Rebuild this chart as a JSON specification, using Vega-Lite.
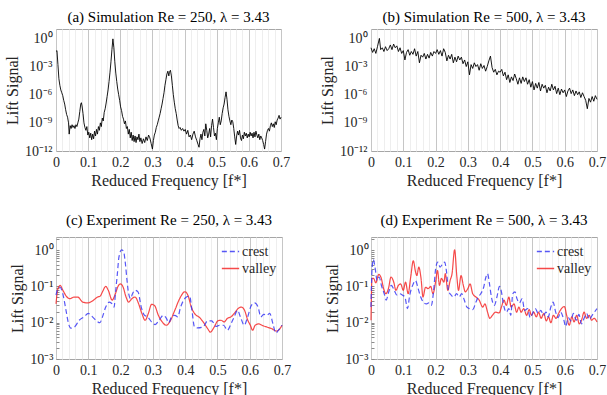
{
"$schema": "https://vega.github.io/schema/vega-lite/v6.json",
"background": "white",
"padding": {"left": 4, "top": 9, "right": 0, "bottom": 0},
"config": {
 "font": "Liberation Serif",
 "view": {"stroke": "#a6a6a6", "strokeWidth": 1},
 "axis": {"labelFont": "Liberation Serif", "titleFont": "Liberation Serif", "labelFontSize": 14, "titleFontSize": 16, "titleFontWeight": "normal", "labelColor": "#262626", "titleColor": "#262626", "domain": false, "ticks": false, "grid": false, "labelPadding": 4, "labelOverlap": false, "labelFlush": false},
 "axisX": {"titlePadding": 3},
 "axisY": {"titlePadding": 4},
 "title": {"font": "Liberation Serif", "fontSize": 15, "fontWeight": "normal", "color": "#000000", "offset": 4},
 "legend": {"labelFont": "Liberation Serif", "labelFontSize": 14, "labelColor": "#262626"}
},
"datasets": {
"a": [
{"f":0.000,"v":4.0e-2},{"f":0.003,"v":5.0e-2},{"f":0.006,"v":1.6e-3},{"f":0.009,"v":5.0e-5},{"f":0.012,"v":1e-5},{"f":0.015,"v":3.2e-6},{"f":0.018,"v":1.6e-6},{"f":0.021,"v":7.9e-7},{"f":0.024,"v":2.5e-7},{"f":0.027,"v":1e-7},{"f":0.030,"v":2.5e-8},{"f":0.033,"v":7.9e-9},{"f":0.036,"v":4.0e-9},{"f":0.039,"v":1e-9},{"f":0.041,"v":6.3e-11},{"f":0.044,"v":5.0e-10},{"f":0.047,"v":2.5e-10},{"f":0.050,"v":6.3e-10},{"f":0.053,"v":3.2e-10},{"f":0.056,"v":5.0e-10},{"f":0.059,"v":2.5e-10},{"f":0.062,"v":6.3e-10},{"f":0.065,"v":4.0e-10},{"f":0.068,"v":1e-9},{"f":0.071,"v":2.5e-9},{"f":0.074,"v":1.6e-8},{"f":0.077,"v":1e-7},{"f":0.079,"v":1.4e-7},{"f":0.081,"v":6.3e-8},{"f":0.084,"v":1e-8},{"f":0.087,"v":1e-9},{"f":0.090,"v":3.2e-10},{"f":0.093,"v":1.6e-10},{"f":0.096,"v":4.0e-10},{"f":0.099,"v":5.0e-11},{"f":0.102,"v":1e-10},{"f":0.105,"v":2.5e-11},{"f":0.108,"v":7.9e-11},{"f":0.111,"v":1.6e-11},{"f":0.114,"v":6.3e-11},{"f":0.117,"v":2.0e-11},{"f":0.120,"v":1.3e-10},{"f":0.123,"v":4.0e-11},{"f":0.126,"v":2.0e-10},{"f":0.129,"v":6.3e-11},{"f":0.132,"v":4.0e-10},{"f":0.135,"v":1.6e-10},{"f":0.138,"v":1e-9},{"f":0.141,"v":4.0e-10},{"f":0.144,"v":3.2e-9},{"f":0.147,"v":1.6e-9},{"f":0.150,"v":1.3e-8},{"f":0.153,"v":3.2e-8},{"f":0.156,"v":1.3e-7},{"f":0.159,"v":6.3e-7},{"f":0.162,"v":3.2e-6},{"f":0.165,"v":2.5e-5},{"f":0.168,"v":2.5e-4},{"f":0.171,"v":3.2e-3},{"f":0.174,"v":6.3e-2},{"f":0.177,"v":8.9e-1},{"f":0.180,"v":1e-1},{"f":0.183,"v":3.2e-3},{"f":0.186,"v":2.0e-4},{"f":0.189,"v":2.5e-5},{"f":0.192,"v":4.0e-6},{"f":0.195,"v":1e-6},{"f":0.198,"v":2.5e-7},{"f":0.201,"v":5.0e-8},{"f":0.204,"v":2.0e-8},{"f":0.207,"v":5.0e-9},{"f":0.210,"v":2.5e-9},{"f":0.213,"v":7.9e-10},{"f":0.216,"v":1.6e-9},{"f":0.219,"v":2.5e-10},{"f":0.222,"v":4.0e-10},{"f":0.225,"v":6.3e-11},{"f":0.228,"v":2.0e-10},{"f":0.231,"v":2.5e-11},{"f":0.234,"v":1e-10},{"f":0.237,"v":1.3e-11},{"f":0.240,"v":5.0e-11},{"f":0.243,"v":1e-11},{"f":0.246,"v":4.0e-11},{"f":0.249,"v":7.9e-12},{"f":0.252,"v":3.2e-11},{"f":0.255,"v":1.6e-11},{"f":0.258,"v":6.3e-11},{"f":0.261,"v":1e-11},{"f":0.264,"v":2.5e-11},{"f":0.268,"v":6.3e-12},{"f":0.272,"v":2.0e-11},{"f":0.276,"v":7.9e-12},{"f":0.280,"v":3.2e-11},{"f":0.284,"v":1.3e-11},{"f":0.288,"v":5.0e-11},{"f":0.292,"v":2.5e-11},{"f":0.296,"v":6.3e-12},{"f":0.300,"v":1.6e-12},{"f":0.303,"v":1.3e-11},{"f":0.306,"v":5.0e-11},{"f":0.309,"v":1e-10},{"f":0.312,"v":3.2e-10},{"f":0.315,"v":6.3e-10},{"f":0.318,"v":1.6e-9},{"f":0.321,"v":4.0e-9},{"f":0.324,"v":1e-8},{"f":0.327,"v":3.2e-8},{"f":0.330,"v":1e-7},{"f":0.333,"v":4.0e-7},{"f":0.336,"v":1.6e-6},{"f":0.339,"v":1e-5},{"f":0.342,"v":4.0e-5},{"f":0.345,"v":1.6e-4},{"f":0.348,"v":3.2e-4},{"f":0.351,"v":1e-4},{"f":0.353,"v":2.5e-4},{"f":0.356,"v":4.0e-4},{"f":0.359,"v":1e-4},{"f":0.362,"v":1e-5},{"f":0.365,"v":1e-6},{"f":0.368,"v":1.6e-7},{"f":0.371,"v":3.2e-8},{"f":0.374,"v":1e-8},{"f":0.377,"v":2.0e-9},{"f":0.380,"v":5.0e-10},{"f":0.383,"v":2.5e-10},{"f":0.386,"v":3.2e-10},{"f":0.390,"v":1.6e-10},{"f":0.394,"v":2.5e-10},{"f":0.398,"v":1.3e-10},{"f":0.402,"v":2.0e-10},{"f":0.406,"v":6.3e-11},{"f":0.410,"v":1.6e-10},{"f":0.414,"v":3.2e-11},{"f":0.418,"v":5.0e-11},{"f":0.422,"v":1.6e-11},{"f":0.426,"v":6.3e-11},{"f":0.430,"v":1.3e-10},{"f":0.434,"v":3.2e-11},{"f":0.438,"v":1.3e-11},{"f":0.442,"v":5.0e-12},{"f":0.445,"v":2.5e-12},{"f":0.448,"v":2.0e-11},{"f":0.451,"v":6.3e-11},{"f":0.454,"v":1.6e-11},{"f":0.457,"v":1e-10},{"f":0.460,"v":2.0e-10},{"f":0.463,"v":4.0e-11},{"f":0.466,"v":7.9e-10},{"f":0.469,"v":1.6e-10},{"f":0.472,"v":2.5e-11},{"f":0.475,"v":6.3e-11},{"f":0.478,"v":2.5e-10},{"f":0.481,"v":3.2e-11},{"f":0.484,"v":5.0e-10},{"f":0.487,"v":2.5e-9},{"f":0.490,"v":3.2e-10},{"f":0.493,"v":4.0e-11},{"f":0.496,"v":7.9e-11},{"f":0.499,"v":1.6e-11},{"f":0.502,"v":2.5e-10},{"f":0.505,"v":1e-9},{"f":0.508,"v":4.0e-9},{"f":0.511,"v":6.3e-10},{"f":0.514,"v":1.6e-9},{"f":0.517,"v":1e-8},{"f":0.520,"v":4.0e-8},{"f":0.523,"v":1e-7},{"f":0.526,"v":5.0e-7},{"f":0.529,"v":2.0e-6},{"f":0.532,"v":3.2e-7},{"f":0.535,"v":2.5e-8},{"f":0.538,"v":5.0e-9},{"f":0.541,"v":1.6e-9},{"f":0.544,"v":6.3e-10},{"f":0.547,"v":2.0e-9},{"f":0.550,"v":1.3e-9},{"f":0.553,"v":2.5e-10},{"f":0.556,"v":3.2e-11},{"f":0.559,"v":5.0e-12},{"f":0.562,"v":4.0e-11},{"f":0.565,"v":1.3e-10},{"f":0.568,"v":5.0e-11},{"f":0.571,"v":1.6e-10},{"f":0.574,"v":2.5e-11},{"f":0.577,"v":1.3e-11},{"f":0.580,"v":5.0e-11},{"f":0.583,"v":2.0e-11},{"f":0.586,"v":1e-10},{"f":0.589,"v":4.0e-11},{"f":0.592,"v":7.9e-11},{"f":0.595,"v":2.5e-11},{"f":0.598,"v":6.3e-11},{"f":0.601,"v":3.2e-11},{"f":0.604,"v":1e-10},{"f":0.607,"v":4.0e-11},{"f":0.610,"v":7.9e-11},{"f":0.613,"v":2.5e-11},{"f":0.616,"v":1e-10},{"f":0.619,"v":3.2e-11},{"f":0.622,"v":1.3e-10},{"f":0.625,"v":5.0e-11},{"f":0.628,"v":2.5e-11},{"f":0.631,"v":6.3e-11},{"f":0.634,"v":1.6e-11},{"f":0.637,"v":4.0e-11},{"f":0.640,"v":2.5e-11},{"f":0.643,"v":1.3e-11},{"f":0.646,"v":5.0e-12},{"f":0.649,"v":1.6e-12},{"f":0.652,"v":1e-11},{"f":0.655,"v":6.3e-11},{"f":0.658,"v":1.6e-10},{"f":0.661,"v":2.5e-10},{"f":0.664,"v":1.3e-10},{"f":0.667,"v":5.0e-10},{"f":0.670,"v":1e-9},{"f":0.673,"v":4.0e-10},{"f":0.676,"v":7.9e-10},{"f":0.679,"v":3.2e-10},{"f":0.682,"v":1.3e-9},{"f":0.685,"v":6.3e-10},{"f":0.688,"v":2.0e-9},{"f":0.691,"v":3.2e-9},{"f":0.694,"v":6.3e-9},{"f":0.697,"v":2.5e-9},{"f":0.700,"v":4.0e-9}
],
"b": [
{"f":0.000,"v":0.1},{"f":0.005,"v":3.2e-2},{"f":0.010,"v":7.9e-2},{"f":0.015,"v":2.5e-2},{"f":0.020,"v":0.13},{"f":0.026,"v":1.0},{"f":0.030,"v":6.3e-2},{"f":0.035,"v":0.1},{"f":0.040,"v":4.0e-2},{"f":0.045,"v":0.13},{"f":0.050,"v":5.0e-2},{"f":0.055,"v":7.9e-2},{"f":0.060,"v":0.2},{"f":0.065,"v":6.3e-2},{"f":0.070,"v":0.25},{"f":0.075,"v":0.1},{"f":0.080,"v":0.16},{"f":0.085,"v":4.0e-2},{"f":0.090,"v":0.1},{"f":0.095,"v":2.5e-2},{"f":0.100,"v":5.0e-2},{"f":0.105,"v":5.0e-3},{"f":0.110,"v":3.2e-2},{"f":0.115,"v":6.3e-2},{"f":0.120,"v":1.6e-2},{"f":0.125,"v":4.0e-2},{"f":0.130,"v":2.0e-2},{"f":0.135,"v":7.9e-2},{"f":0.140,"v":1.3e-2},{"f":0.145,"v":4.0e-2},{"f":0.150,"v":2.5e-3},{"f":0.155,"v":1.6e-2},{"f":0.160,"v":1e-2},{"f":0.165,"v":2.5e-2},{"f":0.170,"v":6.3e-3},{"f":0.175,"v":2.0e-2},{"f":0.180,"v":7.9e-3},{"f":0.185,"v":3.2e-2},{"f":0.190,"v":1.3e-2},{"f":0.195,"v":4.0e-2},{"f":0.200,"v":2.5e-2},{"f":0.205,"v":6.3e-2},{"f":0.210,"v":2.0e-2},{"f":0.215,"v":5.0e-2},{"f":0.220,"v":1.3e-2},{"f":0.225,"v":7.9e-2},{"f":0.230,"v":3.2e-2},{"f":0.235,"v":4.0e-3},{"f":0.240,"v":1.6e-2},{"f":0.245,"v":6.3e-3},{"f":0.250,"v":2.0e-2},{"f":0.255,"v":2.5e-3},{"f":0.260,"v":1e-2},{"f":0.265,"v":3.2e-3},{"f":0.270,"v":1.3e-2},{"f":0.275,"v":5.0e-3},{"f":0.280,"v":1e-2},{"f":0.285,"v":2.0e-3},{"f":0.290,"v":5.0e-3},{"f":0.295,"v":1e-3},{"f":0.300,"v":3.2e-3},{"f":0.305,"v":1.3e-4},{"f":0.310,"v":1.6e-3},{"f":0.315,"v":6.3e-4},{"f":0.320,"v":2.5e-3},{"f":0.325,"v":1e-3},{"f":0.330,"v":1.6e-3},{"f":0.335,"v":4.0e-4},{"f":0.340,"v":2.0e-3},{"f":0.345,"v":6.3e-4},{"f":0.350,"v":1.3e-3},{"f":0.355,"v":3.2e-4},{"f":0.360,"v":1e-3},{"f":0.365,"v":4.0e-3},{"f":0.370,"v":1.3e-2},{"f":0.375,"v":7.9e-4},{"f":0.380,"v":2.5e-4},{"f":0.385,"v":5.0e-4},{"f":0.390,"v":1.3e-4},{"f":0.395,"v":3.2e-4},{"f":0.400,"v":2.5e-4},{"f":0.405,"v":5.0e-4},{"f":0.410,"v":1e-4},{"f":0.415,"v":2.5e-4},{"f":0.420,"v":4.0e-5},{"f":0.425,"v":1.3e-4},{"f":0.430,"v":2.0e-5},{"f":0.435,"v":7.9e-5},{"f":0.440,"v":3.2e-5},{"f":0.445,"v":1.6e-4},{"f":0.450,"v":5.0e-5},{"f":0.455,"v":1.3e-5},{"f":0.460,"v":6.3e-5},{"f":0.465,"v":1.6e-5},{"f":0.470,"v":7.9e-5},{"f":0.475,"v":2.5e-5},{"f":0.480,"v":6.3e-5},{"f":0.485,"v":1.3e-5},{"f":0.490,"v":4.0e-5},{"f":0.495,"v":6.3e-6},{"f":0.500,"v":2.5e-5},{"f":0.505,"v":3.2e-6},{"f":0.510,"v":1.6e-5},{"f":0.515,"v":5.0e-6},{"f":0.520,"v":2.0e-5},{"f":0.525,"v":2.5e-6},{"f":0.530,"v":1.3e-5},{"f":0.535,"v":5.0e-6},{"f":0.540,"v":1e-5},{"f":0.545,"v":1.6e-6},{"f":0.550,"v":6.3e-6},{"f":0.555,"v":2.5e-6},{"f":0.560,"v":1.3e-5},{"f":0.565,"v":3.2e-6},{"f":0.570,"v":7.9e-6},{"f":0.575,"v":1.3e-6},{"f":0.580,"v":5.0e-6},{"f":0.585,"v":1e-6},{"f":0.590,"v":4.0e-6},{"f":0.595,"v":1.6e-6},{"f":0.600,"v":3.2e-6},{"f":0.605,"v":6.3e-7},{"f":0.610,"v":2.5e-6},{"f":0.615,"v":5.0e-6},{"f":0.620,"v":1.3e-6},{"f":0.625,"v":3.2e-6},{"f":0.630,"v":7.9e-7},{"f":0.635,"v":2.5e-6},{"f":0.640,"v":1e-6},{"f":0.645,"v":2.0e-6},{"f":0.650,"v":5.0e-7},{"f":0.655,"v":1.6e-6},{"f":0.660,"v":6.3e-7},{"f":0.665,"v":2.5e-7},{"f":0.670,"v":3.2e-8},{"f":0.675,"v":4.0e-7},{"f":0.680,"v":1.6e-7},{"f":0.685,"v":6.3e-7},{"f":0.690,"v":2.0e-7},{"f":0.695,"v":7.9e-7},{"f":0.700,"v":3.2e-7}
],
"c": [
{"s":"valley","f":0,"v":3.3e-2},{"s":"valley","f":0.006,"v":8.7e-2},{"s":"valley","f":0.013,"v":0.107},{"s":"valley","f":0.021,"v":7.9e-2},{"s":"valley","f":0.034,"v":5.1e-2},{"s":"valley","f":0.042,"v":4.6e-2},{"s":"valley","f":0.057,"v":5.1e-2},{"s":"valley","f":0.067,"v":5.1e-2},{"s":"valley","f":0.083,"v":3.7e-2},{"s":"valley","f":0.098,"v":3.5e-2},{"s":"valley","f":0.113,"v":4.0e-2},{"s":"valley","f":0.129,"v":5.1e-2},{"s":"valley","f":0.137,"v":5.4e-2},{"s":"valley","f":0.144,"v":7.1e-2},{"s":"valley","f":0.154,"v":0.1},{"s":"valley","f":0.162,"v":7.8e-2},{"s":"valley","f":0.174,"v":4.2e-2},{"s":"valley","f":0.184,"v":6.3e-2},{"s":"valley","f":0.192,"v":0.1},{"s":"valley","f":0.199,"v":0.117},{"s":"valley","f":0.207,"v":0.1},{"s":"valley","f":0.217,"v":5.1e-2},{"s":"valley","f":0.225,"v":3.7e-2},{"s":"valley","f":0.235,"v":4.6e-2},{"s":"valley","f":0.245,"v":5.1e-2},{"s":"valley","f":0.256,"v":3.3e-2},{"s":"valley","f":0.266,"v":1.8e-2},{"s":"valley","f":0.276,"v":1.17e-2},{"s":"valley","f":0.286,"v":1.8e-2},{"s":"valley","f":0.296,"v":3.2e-2},{"s":"valley","f":0.305,"v":3.0e-2},{"s":"valley","f":0.317,"v":1.6e-2},{"s":"valley","f":0.329,"v":1.05e-2},{"s":"valley","f":0.342,"v":8.5e-3},{"s":"valley","f":0.352,"v":1.05e-2},{"s":"valley","f":0.368,"v":2.2e-2},{"s":"valley","f":0.383,"v":4.6e-2},{"s":"valley","f":0.399,"v":7.1e-2},{"s":"valley","f":0.409,"v":5.6e-2},{"s":"valley","f":0.419,"v":2.7e-2},{"s":"valley","f":0.429,"v":1.8e-2},{"s":"valley","f":0.445,"v":1.38e-2},{"s":"valley","f":0.460,"v":9.3e-3},{"s":"valley","f":0.470,"v":6.8e-3},{"s":"valley","f":0.478,"v":5.5e-3},{"s":"valley","f":0.490,"v":7.6e-3},{"s":"valley","f":0.501,"v":1.12e-2},{"s":"valley","f":0.511,"v":1.17e-2},{"s":"valley","f":0.521,"v":1.05e-2},{"s":"valley","f":0.531,"v":1.32e-2},{"s":"valley","f":0.542,"v":1.45e-2},{"s":"valley","f":0.552,"v":1.8e-2},{"s":"valley","f":0.564,"v":2.45e-2},{"s":"valley","f":0.574,"v":2.7e-2},{"s":"valley","f":0.584,"v":2.2e-2},{"s":"valley","f":0.594,"v":1.17e-2},{"s":"valley","f":0.602,"v":8.5e-3},{"s":"valley","f":0.609,"v":6.2e-3},{"s":"valley","f":0.617,"v":8.5e-3},{"s":"valley","f":0.628,"v":9.3e-3},{"s":"valley","f":0.638,"v":8.5e-3},{"s":"valley","f":0.653,"v":7.6e-3},{"s":"valley","f":0.669,"v":6.8e-3},{"s":"valley","f":0.682,"v":5.9e-3},{"s":"valley","f":0.689,"v":6.2e-3},{"s":"valley","f":0.7,"v":8.5e-3},
{"s":"crest","f":0,"v":5.8e-2},{"s":"crest","f":0.006,"v":8.7e-2},{"s":"crest","f":0.013,"v":9.5e-2},{"s":"crest","f":0.021,"v":6.3e-2},{"s":"crest","f":0.031,"v":2.2e-2},{"s":"crest","f":0.039,"v":9.3e-3},{"s":"crest","f":0.046,"v":7.1e-3},{"s":"crest","f":0.057,"v":7.6e-3},{"s":"crest","f":0.072,"v":1.17e-2},{"s":"crest","f":0.087,"v":1.45e-2},{"s":"crest","f":0.1,"v":1.8e-2},{"s":"crest","f":0.113,"v":1.45e-2},{"s":"crest","f":0.126,"v":1.12e-2},{"s":"crest","f":0.136,"v":1e-2},{"s":"crest","f":0.144,"v":1.45e-2},{"s":"crest","f":0.154,"v":2.7e-2},{"s":"crest","f":0.165,"v":3.7e-2},{"s":"crest","f":0.174,"v":3.3e-2},{"s":"crest","f":0.180,"v":2.7e-2},{"s":"crest","f":0.184,"v":6.3e-2},{"s":"crest","f":0.190,"v":0.22},{"s":"crest","f":0.195,"v":0.65},{"s":"crest","f":0.203,"v":1.02},{"s":"crest","f":0.209,"v":0.93},{"s":"crest","f":0.215,"v":0.42},{"s":"crest","f":0.220,"v":0.145},{"s":"crest","f":0.225,"v":6.3e-2},{"s":"crest","f":0.231,"v":4.6e-2},{"s":"crest","f":0.237,"v":6.3e-2},{"s":"crest","f":0.245,"v":7.8e-2},{"s":"crest","f":0.254,"v":7.1e-2},{"s":"crest","f":0.264,"v":2.7e-2},{"s":"crest","f":0.274,"v":1.6e-2},{"s":"crest","f":0.284,"v":1.45e-2},{"s":"crest","f":0.296,"v":1.05e-2},{"s":"crest","f":0.307,"v":8.9e-3},{"s":"crest","f":0.321,"v":1.23e-2},{"s":"crest","f":0.332,"v":1.6e-2},{"s":"crest","f":0.342,"v":1.32e-2},{"s":"crest","f":0.349,"v":1e-2},{"s":"crest","f":0.358,"v":1.45e-2},{"s":"crest","f":0.368,"v":1.6e-2},{"s":"crest","f":0.377,"v":1.45e-2},{"s":"crest","f":0.386,"v":2.7e-2},{"s":"crest","f":0.404,"v":5.1e-2},{"s":"crest","f":0.414,"v":5.4e-2},{"s":"crest","f":0.421,"v":2.2e-2},{"s":"crest","f":0.429,"v":7.6e-3},{"s":"crest","f":0.439,"v":7.2e-3},{"s":"crest","f":0.455,"v":7.6e-3},{"s":"crest","f":0.470,"v":1.12e-2},{"s":"crest","f":0.482,"v":1.12e-2},{"s":"crest","f":0.496,"v":7.9e-3},{"s":"crest","f":0.506,"v":8.5e-3},{"s":"crest","f":0.519,"v":8.5e-3},{"s":"crest","f":0.531,"v":6.2e-3},{"s":"crest","f":0.542,"v":9.3e-3},{"s":"crest","f":0.552,"v":1.45e-2},{"s":"crest","f":0.562,"v":2.2e-2},{"s":"crest","f":0.572,"v":1.38e-2},{"s":"crest","f":0.583,"v":8.5e-3},{"s":"crest","f":0.593,"v":1.38e-2},{"s":"crest","f":0.605,"v":3.0e-2},{"s":"crest","f":0.615,"v":3.5e-2},{"s":"crest","f":0.626,"v":2.7e-2},{"s":"crest","f":0.634,"v":1.45e-2},{"s":"crest","f":0.644,"v":1.7e-2},{"s":"crest","f":0.653,"v":1.6e-2},{"s":"crest","f":0.662,"v":1.8e-2},{"s":"crest","f":0.672,"v":9.3e-3},{"s":"crest","f":0.681,"v":5.2e-3},{"s":"crest","f":0.689,"v":6.2e-3},{"s":"crest","f":0.7,"v":8.5e-3}
],
"d": [
{"s":"valley","f":0,"v":1.17e-2},{"s":"valley","f":0.003,"v":0.166},{"s":"valley","f":0.008,"v":0.166},{"s":"valley","f":0.015,"v":0.126},{"s":"valley","f":0.024,"v":0.214},{"s":"valley","f":0.032,"v":0.166},{"s":"valley","f":0.039,"v":8.7e-2},{"s":"valley","f":0.046,"v":6.3e-2},{"s":"valley","f":0.054,"v":8.7e-2},{"s":"valley","f":0.062,"v":0.182},{"s":"valley","f":0.071,"v":0.126},{"s":"valley","f":0.077,"v":7.8e-2},{"s":"valley","f":0.085,"v":0.107},{"s":"valley","f":0.092,"v":0.117},{"s":"valley","f":0.1,"v":7.8e-2},{"s":"valley","f":0.107,"v":0.132},{"s":"valley","f":0.115,"v":6.3e-2},{"s":"valley","f":0.123,"v":0.182},{"s":"valley","f":0.131,"v":0.51},{"s":"valley","f":0.138,"v":0.25},{"s":"valley","f":0.142,"v":0.2},{"s":"valley","f":0.148,"v":0.34},{"s":"valley","f":0.155,"v":0.166},{"s":"valley","f":0.161,"v":5.1e-2},{"s":"valley","f":0.169,"v":9.5e-2},{"s":"valley","f":0.177,"v":8.7e-2},{"s":"valley","f":0.185,"v":0.1},{"s":"valley","f":0.192,"v":6.3e-2},{"s":"valley","f":0.2,"v":0.132},{"s":"valley","f":0.206,"v":0.275},{"s":"valley","f":0.212,"v":0.107},{"s":"valley","f":0.218,"v":0.166},{"s":"valley","f":0.226,"v":0.132},{"s":"valley","f":0.23,"v":0.224},{"s":"valley","f":0.238,"v":7.8e-2},{"s":"valley","f":0.245,"v":0.145},{"s":"valley","f":0.251,"v":0.224},{"s":"valley","f":0.259,"v":1.02},{"s":"valley","f":0.266,"v":0.182},{"s":"valley","f":0.271,"v":7.8e-2},{"s":"valley","f":0.279,"v":0.2},{"s":"valley","f":0.286,"v":0.107},{"s":"valley","f":0.292,"v":7.1e-2},{"s":"valley","f":0.3,"v":8.7e-2},{"s":"valley","f":0.307,"v":0.117},{"s":"valley","f":0.315,"v":6.3e-2},{"s":"valley","f":0.325,"v":5.1e-2},{"s":"valley","f":0.335,"v":4.2e-2},{"s":"valley","f":0.346,"v":2.7e-2},{"s":"valley","f":0.353,"v":3.3e-2},{"s":"valley","f":0.361,"v":1.95e-2},{"s":"valley","f":0.368,"v":1.32e-2},{"s":"valley","f":0.376,"v":1.6e-2},{"s":"valley","f":0.386,"v":1.95e-2},{"s":"valley","f":0.397,"v":1.86e-2},{"s":"valley","f":0.404,"v":2.7e-2},{"s":"valley","f":0.412,"v":4.2e-2},{"s":"valley","f":0.419,"v":3.0e-2},{"s":"valley","f":0.427,"v":5.1e-2},{"s":"valley","f":0.434,"v":2.7e-2},{"s":"valley","f":0.443,"v":3.3e-2},{"s":"valley","f":0.451,"v":1.95e-2},{"s":"valley","f":0.458,"v":2.7e-2},{"s":"valley","f":0.465,"v":1.95e-2},{"s":"valley","f":0.473,"v":2.45e-2},{"s":"valley","f":0.482,"v":1.6e-2},{"s":"valley","f":0.49,"v":2.3e-2},{"s":"valley","f":0.497,"v":1.6e-2},{"s":"valley","f":0.504,"v":1.95e-2},{"s":"valley","f":0.512,"v":1.45e-2},{"s":"valley","f":0.519,"v":1.95e-2},{"s":"valley","f":0.527,"v":1.32e-2},{"s":"valley","f":0.535,"v":1.8e-2},{"s":"valley","f":0.543,"v":1.12e-2},{"s":"valley","f":0.55,"v":1.45e-2},{"s":"valley","f":0.557,"v":1e-2},{"s":"valley","f":0.565,"v":1.6e-2},{"s":"valley","f":0.573,"v":1.32e-2},{"s":"valley","f":0.581,"v":1.8e-2},{"s":"valley","f":0.59,"v":2.45e-2},{"s":"valley","f":0.599,"v":2.8e-2},{"s":"valley","f":0.606,"v":1.6e-2},{"s":"valley","f":0.614,"v":8.5e-3},{"s":"valley","f":0.622,"v":1.45e-2},{"s":"valley","f":0.629,"v":1.05e-2},{"s":"valley","f":0.637,"v":1.6e-2},{"s":"valley","f":0.645,"v":9.3e-3},{"s":"valley","f":0.652,"v":1.17e-2},{"s":"valley","f":0.66,"v":1.95e-2},{"s":"valley","f":0.668,"v":1.32e-2},{"s":"valley","f":0.676,"v":1.6e-2},{"s":"valley","f":0.683,"v":1.17e-2},{"s":"valley","f":0.691,"v":1.32e-2},{"s":"valley","f":0.7,"v":1.05e-2},
{"s":"crest","f":0,"v":2.7e-2},{"s":"crest","f":0.003,"v":0.275},{"s":"crest","f":0.007,"v":0.55},{"s":"crest","f":0.013,"v":0.31},{"s":"crest","f":0.019,"v":0.145},{"s":"crest","f":0.025,"v":0.182},{"s":"crest","f":0.033,"v":0.1},{"s":"crest","f":0.041,"v":6.3e-2},{"s":"crest","f":0.047,"v":4.2e-2},{"s":"crest","f":0.055,"v":7.1e-2},{"s":"crest","f":0.063,"v":0.107},{"s":"crest","f":0.072,"v":7.8e-2},{"s":"crest","f":0.08,"v":5.8e-2},{"s":"crest","f":0.088,"v":6.3e-2},{"s":"crest","f":0.097,"v":5.8e-2},{"s":"crest","f":0.105,"v":5.1e-2},{"s":"crest","f":0.113,"v":2.45e-2},{"s":"crest","f":0.12,"v":5.8e-2},{"s":"crest","f":0.129,"v":0.107},{"s":"crest","f":0.138,"v":0.145},{"s":"crest","f":0.146,"v":8.7e-2},{"s":"crest","f":0.154,"v":5.1e-2},{"s":"crest","f":0.162,"v":3.7e-2},{"s":"crest","f":0.171,"v":3.3e-2},{"s":"crest","f":0.179,"v":3.5e-2},{"s":"crest","f":0.187,"v":3.0e-2},{"s":"crest","f":0.193,"v":6.3e-2},{"s":"crest","f":0.201,"v":0.34},{"s":"crest","f":0.207,"v":0.47},{"s":"crest","f":0.214,"v":0.34},{"s":"crest","f":0.222,"v":0.42},{"s":"crest","f":0.228,"v":0.47},{"s":"crest","f":0.234,"v":0.25},{"s":"crest","f":0.24,"v":7.8e-2},{"s":"crest","f":0.248,"v":5.8e-2},{"s":"crest","f":0.257,"v":5.1e-2},{"s":"crest","f":0.265,"v":6.3e-2},{"s":"crest","f":0.273,"v":5.1e-2},{"s":"crest","f":0.281,"v":6.3e-2},{"s":"crest","f":0.289,"v":4.2e-2},{"s":"crest","f":0.297,"v":2.7e-2},{"s":"crest","f":0.305,"v":2.45e-2},{"s":"crest","f":0.315,"v":2.3e-2},{"s":"crest","f":0.325,"v":3.7e-2},{"s":"crest","f":0.332,"v":5.1e-2},{"s":"crest","f":0.34,"v":6.3e-2},{"s":"crest","f":0.349,"v":9.5e-2},{"s":"crest","f":0.356,"v":0.182},{"s":"crest","f":0.361,"v":0.224},{"s":"crest","f":0.367,"v":0.117},{"s":"crest","f":0.373,"v":5.1e-2},{"s":"crest","f":0.382,"v":3.0e-2},{"s":"crest","f":0.39,"v":5.1e-2},{"s":"crest","f":0.398,"v":0.1},{"s":"crest","f":0.404,"v":7.1e-2},{"s":"crest","f":0.41,"v":3.3e-2},{"s":"crest","f":0.419,"v":1.95e-2},{"s":"crest","f":0.427,"v":2.45e-2},{"s":"crest","f":0.433,"v":1.6e-2},{"s":"crest","f":0.439,"v":6.3e-2},{"s":"crest","f":0.446,"v":7.1e-2},{"s":"crest","f":0.452,"v":4.6e-2},{"s":"crest","f":0.46,"v":3.5e-2},{"s":"crest","f":0.468,"v":4.6e-2},{"s":"crest","f":0.476,"v":2.2e-2},{"s":"crest","f":0.485,"v":2.45e-2},{"s":"crest","f":0.493,"v":1.38e-2},{"s":"crest","f":0.501,"v":1.86e-2},{"s":"crest","f":0.509,"v":2.45e-2},{"s":"crest","f":0.518,"v":1.8e-2},{"s":"crest","f":0.526,"v":2.2e-2},{"s":"crest","f":0.534,"v":1.6e-2},{"s":"crest","f":0.542,"v":1.95e-2},{"s":"crest","f":0.549,"v":1.45e-2},{"s":"crest","f":0.557,"v":2.7e-2},{"s":"crest","f":0.564,"v":3.7e-2},{"s":"crest","f":0.572,"v":1.95e-2},{"s":"crest","f":0.58,"v":1.38e-2},{"s":"crest","f":0.587,"v":1.95e-2},{"s":"crest","f":0.596,"v":1.32e-2},{"s":"crest","f":0.603,"v":7.9e-3},{"s":"crest","f":0.611,"v":1.38e-2},{"s":"crest","f":0.619,"v":1.12e-2},{"s":"crest","f":0.627,"v":1.8e-2},{"s":"crest","f":0.636,"v":1.17e-2},{"s":"crest","f":0.644,"v":1.7e-2},{"s":"crest","f":0.652,"v":9.3e-3},{"s":"crest","f":0.66,"v":1.32e-2},{"s":"crest","f":0.668,"v":1.8e-2},{"s":"crest","f":0.676,"v":1.23e-2},{"s":"crest","f":0.685,"v":1.6e-2},{"s":"crest","f":0.692,"v":1.95e-2},{"s":"crest","f":0.7,"v":2.45e-2}
]
},
"spacing": 23,
"vconcat": [
{"hconcat": [
 {"width": 225, "height": 122, "title": "(a) Simulation Re = 250, λ = 3.43", "data": {"name": "a"},
  "mark": {"type": "line", "color": "black", "strokeWidth": 0.9},
  "encoding": {
   "x": {"field": "f", "type": "quantitative", "scale": {"domain": [0, 0.7], "nice": false, "zero": false},
    "axis": {"title": "Reduced Frequency [f*]", "grid": true, "values": [0,0.02,0.04,0.06,0.08,0.1,0.12,0.14,0.16,0.18,0.2,0.22,0.24,0.26,0.28,0.3,0.32,0.34,0.36,0.38,0.4,0.42,0.44,0.46,0.48,0.5,0.52,0.54,0.56,0.58,0.6,0.62,0.64,0.66,0.68,0.7],
     "labelExpr": "abs(datum.value*10 - round(datum.value*10)) < 0.001 ? format(datum.value, '.1~f') : ''",
     "gridColor": {"condition": {"test": "abs(datum.value*10 - round(datum.value*10)) < 0.001", "value": "#c6c6c6"}, "value": "#eeeeee"}}},
   "y": {"field": "v", "type": "quantitative", "scale": {"type": "log", "domain": [1e-12, 10], "nice": false},
    "axis": {"title": "Lift Signal", "values": [1e-12, 1e-9, 1e-6, 1e-3, 1],
     "labelExpr": "'10' + replace(replace(replace(replace(replace(replace(replace(replace(replace(replace(replace('' + round(log(datum.value)/LN10),'-','⁻'),'0','⁰'),'1','¹'),'2','²'),'3','³'),'4','⁴'),'5','⁵'),'6','⁶'),'7','⁷'),'8','⁸'),'9','⁹')"}}
  }},
 {"width": 226, "height": 122, "title": "(b) Simulation Re = 500, λ = 3.43", "data": {"name": "b"},
  "mark": {"type": "line", "color": "black", "strokeWidth": 0.9},
  "encoding": {
   "x": {"field": "f", "type": "quantitative", "scale": {"domain": [0, 0.7], "nice": false, "zero": false},
    "axis": {"title": "Reduced Frequency [f*]", "grid": true, "values": [0,0.02,0.04,0.06,0.08,0.1,0.12,0.14,0.16,0.18,0.2,0.22,0.24,0.26,0.28,0.3,0.32,0.34,0.36,0.38,0.4,0.42,0.44,0.46,0.48,0.5,0.52,0.54,0.56,0.58,0.6,0.62,0.64,0.66,0.68,0.7],
     "labelExpr": "abs(datum.value*10 - round(datum.value*10)) < 0.001 ? format(datum.value, '.1~f') : ''",
     "gridColor": {"condition": {"test": "abs(datum.value*10 - round(datum.value*10)) < 0.001", "value": "#c6c6c6"}, "value": "#eeeeee"}}},
   "y": {"field": "v", "type": "quantitative", "scale": {"type": "log", "domain": [1e-12, 10], "nice": false},
    "axis": {"title": "Lift Signal", "values": [1e-12, 1e-9, 1e-6, 1e-3, 1],
     "labelExpr": "'10' + replace(replace(replace(replace(replace(replace(replace(replace(replace(replace(replace('' + round(log(datum.value)/LN10),'-','⁻'),'0','⁰'),'1','¹'),'2','²'),'3','³'),'4','⁴'),'5','⁵'),'6','⁶'),'7','⁷'),'8','⁸'),'9','⁹')"}}
  }}
 ], "spacing": 90, "bounds": "flush"},
{"hconcat": [
 {"width": 226, "height": 122, "title": "(c) Experiment Re = 250, λ = 3.43", "data": {"name": "c"},
  "mark": {"type": "line", "strokeWidth": 1.2, "opacity": 0.85, "interpolate": "monotone"},
  "encoding": {
   "x": {"field": "f", "type": "quantitative", "scale": {"domain": [0, 0.7], "nice": false, "zero": false},
    "axis": {"title": "Reduced Frequency [f*]", "grid": true, "values": [0,0.02,0.04,0.06,0.08,0.1,0.12,0.14,0.16,0.18,0.2,0.22,0.24,0.26,0.28,0.3,0.32,0.34,0.36,0.38,0.4,0.42,0.44,0.46,0.48,0.5,0.52,0.54,0.56,0.58,0.6,0.62,0.64,0.66,0.68,0.7],
     "labelExpr": "abs(datum.value*10 - round(datum.value*10)) < 0.001 ? format(datum.value, '.1~f') : ''",
     "gridColor": {"condition": {"test": "abs(datum.value*10 - round(datum.value*10)) < 0.001", "value": "#c6c6c6"}, "value": "#eeeeee"}}},
   "y": {"field": "v", "type": "quantitative", "scale": {"type": "log", "domain": [0.001, 2.3], "nice": false},
    "axis": {"title": "Lift Signal", "ticks": true, "tickSize": -3, "tickColor": "#8c8c8c", "labelPadding": 6,
     "values": [0.001,0.002,0.003,0.004,0.005,0.006,0.007,0.008,0.009,0.01,0.02,0.03,0.04,0.05,0.06,0.07,0.08,0.09,0.1,0.2,0.3,0.4,0.5,0.6,0.7,0.8,0.9,1,2],
     "labelExpr": "abs(log(datum.value)/LN10 - round(log(datum.value)/LN10)) > 0.01 ? '' : '10' + replace(replace(replace(replace(replace(replace(replace(replace(replace(replace(replace('' + round(log(datum.value)/LN10),'-','⁻'),'0','⁰'),'1','¹'),'2','²'),'3','³'),'4','⁴'),'5','⁵'),'6','⁶'),'7','⁷'),'8','⁸'),'9','⁹')"}},
   "color": {"field": "s", "type": "nominal", "scale": {"domain": ["crest", "valley"], "range": ["#3a3af5", "#f52a2a"]},
    "legend": {"title": null, "orient": "top-right", "symbolType": "stroke", "symbolSize": 300, "symbolStrokeWidth": 1.3, "offset": 5, "rowPadding": 0, "labelOffset": 2}},
   "strokeDash": {"field": "s", "type": "nominal", "scale": {"domain": ["crest", "valley"], "range": [[5, 3], [1, 0]]}}
  }},
 {"width": 226, "height": 122, "title": "(d) Experiment Re = 500, λ = 3.43", "data": {"name": "d"},
  "mark": {"type": "line", "strokeWidth": 1.2, "opacity": 0.85, "interpolate": "monotone"},
  "encoding": {
   "x": {"field": "f", "type": "quantitative", "scale": {"domain": [0, 0.7], "nice": false, "zero": false},
    "axis": {"title": "Reduced Frequency [f*]", "grid": true, "values": [0,0.02,0.04,0.06,0.08,0.1,0.12,0.14,0.16,0.18,0.2,0.22,0.24,0.26,0.28,0.3,0.32,0.34,0.36,0.38,0.4,0.42,0.44,0.46,0.48,0.5,0.52,0.54,0.56,0.58,0.6,0.62,0.64,0.66,0.68,0.7],
     "labelExpr": "abs(datum.value*10 - round(datum.value*10)) < 0.001 ? format(datum.value, '.1~f') : ''",
     "gridColor": {"condition": {"test": "abs(datum.value*10 - round(datum.value*10)) < 0.001", "value": "#c6c6c6"}, "value": "#eeeeee"}}},
   "y": {"field": "v", "type": "quantitative", "scale": {"type": "log", "domain": [0.001, 2.3], "nice": false},
    "axis": {"title": "Lift Signal", "ticks": true, "tickSize": -3, "tickColor": "#8c8c8c", "labelPadding": 6,
     "values": [0.001,0.002,0.003,0.004,0.005,0.006,0.007,0.008,0.009,0.01,0.02,0.03,0.04,0.05,0.06,0.07,0.08,0.09,0.1,0.2,0.3,0.4,0.5,0.6,0.7,0.8,0.9,1,2],
     "labelExpr": "abs(log(datum.value)/LN10 - round(log(datum.value)/LN10)) > 0.01 ? '' : '10' + replace(replace(replace(replace(replace(replace(replace(replace(replace(replace(replace('' + round(log(datum.value)/LN10),'-','⁻'),'0','⁰'),'1','¹'),'2','²'),'3','³'),'4','⁴'),'5','⁵'),'6','⁶'),'7','⁷'),'8','⁸'),'9','⁹')"}},
   "color": {"field": "s", "type": "nominal", "scale": {"domain": ["crest", "valley"], "range": ["#3a3af5", "#f52a2a"]},
    "legend": {"title": null, "orient": "top-right", "symbolType": "stroke", "symbolSize": 300, "symbolStrokeWidth": 1.3, "offset": 5, "rowPadding": 0, "labelOffset": 2}},
   "strokeDash": {"field": "s", "type": "nominal", "scale": {"domain": ["crest", "valley"], "range": [[5, 3], [1, 0]]}}
  }}
 ], "spacing": 89, "bounds": "flush", "resolve": {"scale": {"color": "independent", "strokeDash": "independent"}}}
]
}
